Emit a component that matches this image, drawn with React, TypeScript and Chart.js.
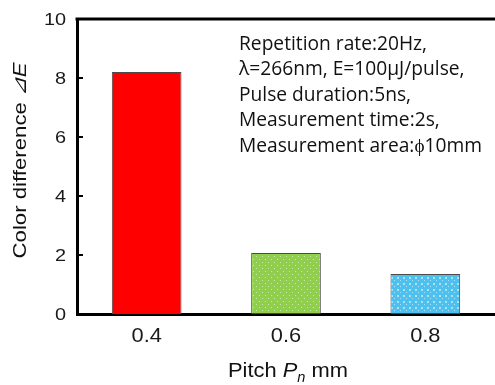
import React, { useEffect, useRef } from "react";
import { Chart, registerables } from "chart.js";

Chart.register(...registerables);

const categories = ["0.4", "0.6", "0.8"];
const values = [8.2, 2.07, 1.36];
const yTicks = [0, 2, 4, 6, 8, 10];
const noteLines = [
  "Repetition rate:20Hz,",
  "λ=266nm, E=100μJ/pulse,",
  "Pulse duration:5ns,",
  "Measurement time:2s,",
  "Measurement area:ϕ10mm",
];

function makePattern(base: string, dot: string, kind: number): CanvasPattern | string {
  const c = document.createElement("canvas");
  c.width = 6;
  c.height = 6;
  const g = c.getContext("2d");
  if (!g) return base;
  g.fillStyle = base;
  g.fillRect(0, 0, 6, 6);
  g.fillStyle = dot;
  if (kind === 0) {
    g.fillRect(1, 1, 1, 1);
    g.fillRect(4, 4, 1, 1);
  } else {
    g.fillRect(1, 1, 2, 2);
    g.fillRect(4, 4, 1, 1);
  }
  const p = g.createPattern(c, "repeat");
  return p || base;
}

type Part = [string, string, number];

function drawParts(ctx: CanvasRenderingContext2D, parts: Part[], cx: number, baseY: number, targetW: number) {
  let w = 0;
  parts.forEach(([s, f]) => {
    ctx.font = f;
    w += ctx.measureText(s).width;
  });
  const k = targetW / w;
  ctx.save();
  ctx.translate(cx - targetW / 2, baseY);
  ctx.scale(k, 1);
  let x = 0;
  parts.forEach(([s, f, dy]) => {
    ctx.font = f;
    ctx.fillText(s, x, dy);
    x += ctx.measureText(s).width;
  });
  ctx.restore();
}

export default function App() {
  const ref = useRef<HTMLCanvasElement | null>(null);
  useEffect(() => {
    if (!ref.current) return;
    const fills = [
      "#ff0000",
      makePattern("#8fcf4c", "#c6e9a4", 0),
      makePattern("#4cc0ee", "#a8e2f8", 1),
    ];
    const deco = {
      id: "deco",
      afterDraw(chart: any) {
        const ctx = chart.ctx as CanvasRenderingContext2D;
        const a = chart.chartArea;
        const ys = chart.scales.y;
        const xs = chart.scales.x;
        ctx.save();
        // top border
        ctx.strokeStyle = "#000";
        ctx.lineWidth = 3;
        ctx.beginPath();
        ctx.moveTo(a.left - 1.5, a.top);
        ctx.lineTo(a.right + 5, a.top);
        ctx.stroke();
        // inward ticks
        ctx.lineWidth = 2;
        ys.ticks.forEach((t: any) => {
          const py = ys.getPixelForValue(t.value);
          ctx.beginPath();
          ctx.moveTo(a.left, py);
          ctx.lineTo(a.left + 6, py);
          ctx.stroke();
        });
        // y tick labels
        ctx.fillStyle = "#1a1a1a";
        ctx.textBaseline = "alphabetic";
        ctx.textAlign = "left";
        ys.ticks.forEach((t: any) => {
          const py = ys.getPixelForValue(t.value);
          const s = String(t.value);
          ctx.font = "17px 'Liberation Sans'";
          const k = 1.17;
          const w = ctx.measureText(s).width * k;
          ctx.save();
          ctx.translate(66 - w, py + 6);
          ctx.scale(k, 1);
          ctx.fillText(s, 0, 0);
          ctx.restore();
        });
        // x tick labels
        xs.ticks.forEach((t: any, i: number) => {
          const px = xs.getPixelForValue(t.value);
          const s = categories[i];
          ctx.font = "19.5px 'Liberation Sans'";
          const k = 1.12;
          const w = ctx.measureText(s).width * k;
          ctx.save();
          ctx.translate(px - w / 2, 342);
          ctx.scale(k, 1);
          ctx.fillText(s, 0, 0);
          ctx.restore();
        });
        // note
        ctx.fillStyle = "#111";
        ctx.font = "19.5px 'Open Sans'";
        const longest = Math.max(...noteLines.map((l) => ctx.measureText(l).width));
        const nk = 243 / longest;
        noteLines.forEach((l, i) => {
          ctx.save();
          ctx.translate(239, 49.5 + i * 25.6);
          ctx.scale(nk, 1);
          ctx.fillText(l, 0, 0);
          ctx.restore();
        });
        // x title
        const base21 = "21px 'Liberation Sans'";
        drawParts(
          ctx,
          [
            ["Pitch ", base21, 0],
            ["P", "italic 21px 'Liberation Sans'", 0],
            ["n", "italic 14px 'Liberation Sans'", 5],
            [" mm", base21, 0],
          ],
          288,
          377,
          120
        );
        // y title
        ctx.save();
        ctx.translate(26, 0);
        ctx.rotate(-Math.PI / 2);
        drawParts(
          ctx,
          [
            ["Color difference ", "19px 'Liberation Sans'", 0],
            ["⊿E", "italic 19px 'Liberation Sans'", 0],
          ],
          -160.5,
          0,
          196
        );
        ctx.restore();
        ctx.restore();
      },
    };
    const chart = new Chart(ref.current, {
      type: "bar",
      data: {
        labels: categories,
        datasets: [
          {
            data: values,
            backgroundColor: fills as any,
            borderColor: "#4a4a4a",
            borderWidth: 1,
            borderSkipped: false,
            barPercentage: 0.5,
            categoryPercentage: 1,
          },
        ],
      },
      options: {
        animation: false,
        responsive: false,
        layout: { padding: { top: 19, right: -2, left: 0, bottom: 0 } },
        plugins: { legend: { display: false }, tooltip: { enabled: false } },
        scales: {
          x: {
            grid: { display: false, drawTicks: false },
            border: { color: "#000", width: 3 },
            ticks: { display: false },
            afterFit: (s: any) => {
              s.height = 71;
            },
          },
          y: {
            min: 0,
            max: 10,
            afterBuildTicks: (s: any) => {
              s.ticks = yTicks.map((v) => ({ value: v }));
            },
            grid: { display: false, drawTicks: false },
            border: { color: "#000", width: 3 },
            ticks: { display: false },
            afterFit: (s: any) => {
              s.width = 77;
            },
          },
        },
      },
      plugins: [deco],
    });
    return () => chart.destroy();
  }, []);
  return (
    <div style={{ position: "absolute", left: 0, top: 0, width: 495, height: 385, background: "#fff" }}>
      <canvas ref={ref} width={495} height={385} style={{ display: "block" }} />
    </div>
  );
}
